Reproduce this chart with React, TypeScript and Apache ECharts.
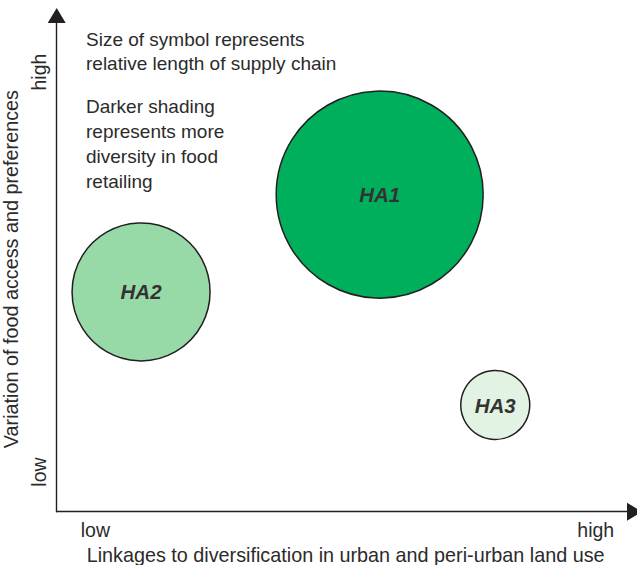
import React, { useEffect, useRef } from "react";
import * as echarts from "echarts";

// Data
const areas = ["HA1", "HA2", "HA3"];
const landUseLinkage = [55.9, 14.6, 75.9]; // x (0 = low, 100 = high)
const foodAccessVariation = [63.9, 44.3, 21.5]; // y (0 = low, 100 = high)
const supplyChainLength = [3, 2, 1]; // relative length -> symbol size
const retailDiversity = [3, 2, 1]; // more diversity -> darker shading
const shadeByDiversity: Record<number, string> = { 1: "#e3f3e3", 2: "#98d9a8", 3: "#00af5b" };

const xTickValues = [6.7, 93.3];
const xTickLabels = ["low", "high"];
const yTickValues = [8.0, 88.6];
const yTickLabels = ["low", "high"];

const xAxisTitle = "Linkages to diversification in urban and peri-urban land use";
const yAxisTitle = "Variation of food access and preferences";
const noteSize = ["Size of symbol represents", "relative length of supply chain"];
const noteShading = ["Darker shading", "represents more", "diversity in food", "retailing"];

const FONT = "'Liberation Sans', Arial, Helvetica, sans-serif";
const TEXT = "#2b2b2b";
const AXIS = "#231f20";

export default function App() {
  const ref = useRef<HTMLDivElement>(null);
  useEffect(() => {
    if (!ref.current) return;
    const chart = echarts.init(ref.current, null, { renderer: "svg" });
    const data = areas.map((name, i) => ({
      name,
      value: [landUseLinkage[i], foodAccessVariation[i], supplyChainLength[i], retailDiversity[i]],
      itemStyle: { color: shadeByDiversity[retailDiversity[i]] },
    }));
    chart.setOption({
      animation: false,
      backgroundColor: "#ffffff",
      textStyle: { fontFamily: FONT },
      grid: { left: 56.7, right: 2.5, top: 15.5, bottom: 53.3, containLabel: false, outerBoundsMode: "none" },
      xAxis: {
        type: "value",
        min: 0,
        max: 100,
        name: xAxisTitle,
        nameLocation: "middle",
        nameGap: 33,
        nameTextStyle: { fontSize: 19.8, color: TEXT, fontFamily: FONT },
        axisLine: { show: true, symbol: ["none", "triangle"], symbolSize: [18, 15], lineStyle: { color: AXIS, width: 1.4 } },
        axisTick: { show: false },
        splitLine: { show: false },
        axisLabel: {
          customValues: xTickValues,
          margin: 8,
          fontSize: 19.5,
          color: TEXT,
          fontFamily: FONT,
          formatter: (v: number) => xTickLabels[xTickValues.indexOf(v)] ?? "",
        },
      },
      yAxis: {
        type: "value",
        min: 0,
        max: 100,
        name: yAxisTitle,
        nameLocation: "middle",
        nameGap: 29,
        nameRotate: 90,
        nameTextStyle: { fontSize: 19.8, color: TEXT, fontFamily: FONT, padding: [0, 11, 0, 0] },
        axisLine: { show: true, symbol: ["none", "triangle"], symbolSize: [18, 15], lineStyle: { color: AXIS, width: 1.4 } },
        axisTick: { show: false },
        splitLine: { show: false },
        axisLabel: {
          customValues: yTickValues,
          rotate: 90,
          margin: 8,
          fontSize: 19.5,
          color: TEXT,
          fontFamily: FONT,
          formatter: (v: number) => yTickLabels[yTickValues.indexOf(v)] ?? "",
        },
      },
      series: [
        {
          type: "scatter",
          data,
          symbol: "circle",
          symbolSize: (val: number[]) => val[2] * 69,
          itemStyle: { borderColor: AXIS, borderWidth: 1.5, opacity: 1 },
          label: {
            show: true,
            position: "inside",
            formatter: (p: any) => p.name,
            fontSize: 20.5,
            fontWeight: "bold",
            fontStyle: "italic",
            color: "#333333",
            fontFamily: FONT,
          },
          emphasis: { disabled: true },
        },
      ],
      graphic: [
        {
          type: "text",
          left: 86,
          top: 27.4,
          style: { text: noteSize.join("\n"), font: `19px ${FONT}`, fill: TEXT, lineHeight: 24 },
        },
        {
          type: "text",
          left: 86,
          top: 93.5,
          style: { text: noteShading.join("\n"), font: `19px ${FONT}`, fill: TEXT, lineHeight: 25.2 },
        },
      ],
    });
    return () => chart.dispose();
  }, []);
  return <div ref={ref} style={{ position: "fixed", left: 0, top: 0, width: 637, height: 565 }} />;
}
